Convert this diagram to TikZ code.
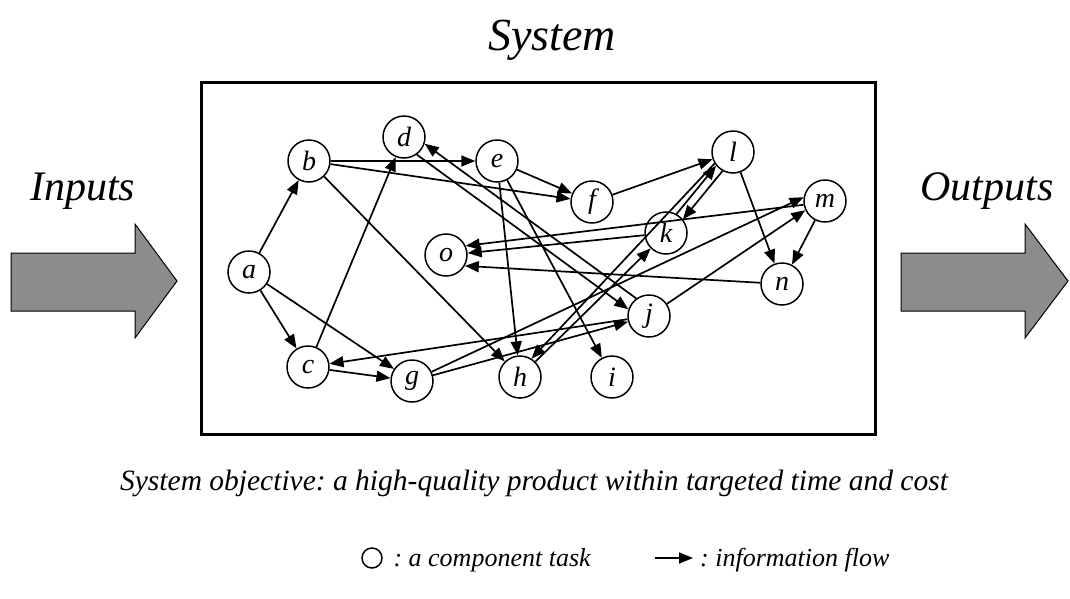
\documentclass[tikz,border=0pt]{standalone}
\usepackage{fontspec}
\setmainfont{Liberation Serif}
\usetikzlibrary{arrows.meta}
\frenchspacing
\begin{document}
\begin{tikzpicture}[x=1pt,y=-1pt,
  task/.style={circle,draw,line width=1.5pt,minimum size=42pt,inner sep=0pt,
    font=\fontsize{28}{28}\selectfont\itshape},
  flow/.style={line width=1.7pt,-{Triangle[length=14pt,width=11pt]}},
  bigarrow/.style={draw=black,line width=1pt,fill=black!45},
  label/.style={inner sep=0pt,font=\itshape}]
\useasboundingbox (0,0) rectangle (1070,598);

% title and the two side labels
\node[label,font=\fontsize{46}{46}\selectfont\itshape,anchor=base] (title) at (552,50) {System};
\node[label,font=\fontsize{42}{42}\selectfont\itshape,anchor=base west] (inp) at (30,200) {Inputs};
\node[label,font=\fontsize{42}{42}\selectfont\itshape,anchor=base] (outp) at (987,200) {Outputs};

% input and output block arrows
\draw[bigarrow] (11,253) -- (135,253) -- (135,224) -- (177,281) -- (135,338) -- (135,311) -- (11,311) -- cycle;
\draw[bigarrow] (901,253) -- (1025,253) -- (1025,224) -- (1068,281) -- (1025,338) -- (1025,311) -- (901,311) -- cycle;

% system boundary
\draw[line width=3pt] (201,82) rectangle (875,434);

% component tasks
\node[task] (a) at (249,272) {a};
\node[task] (b) at (309,161) {b};
\node[task] (c) at (308,367) {c};
\node[task] (d) at (404,137) {d};
\node[task] (e) at (497,161) {e};
\node[task] (f) at (592,202) {f};
\node[task] (g) at (412,381) {g};
\node[task] (h) at (520,377) {h};
\node[task] (i) at (612,377) {i};
\node[task] (j) at (649,316) {j};
\node[task] (k) at (666,233) {k};
\node[task] (l) at (733,152) {l};
\node[task] (m) at (825,201) {m};
\node[task] (n) at (782,284) {n};
\node[task] (o) at (446,255) {o};

% information flows
\draw[flow] (a) -- (b);
\draw[flow] (a) -- (c);
\draw[flow] (a) -- (g);
\draw[flow] (b) -- (e);
\draw[flow] (b) -- (f);
\draw[flow] (b) -- (h);
\draw[flow] (c) -- (d);
\draw[flow] (c) -- (g);
\draw[flow] (d.-54) -- (j.162);
\draw[flow] (j.126) -- (d.-18);
\draw[flow] (e) -- (f);
\draw[flow] (e) -- (h);
\draw[flow] (e) -- (i);
\draw[flow] (f) -- (l);
\draw[flow] (g) -- (j);
\draw[flow] (g) -- (m.170);
\draw[flow] (j) -- (c);
\draw[flow] (j) -- (m.205);
\draw[flow] (h.45) -- (k.225);
\draw[flow] (l.212) -- (h.58);
\draw[flow] (k.61) -- (l.219);
\draw[flow] (l.241) -- (k.39);
\draw[flow] (k) -- (o.5);
\draw[flow] (m.190) -- (o.25);
\draw[flow] (n) -- (o.-30);
\draw[flow] (l) -- (n);
\draw[flow] (m) -- (n);

% objective
\node[label,font=\fontsize{29.5}{29.5}\selectfont\itshape,anchor=base] (obj) at (534,490)
  {System objective: a high-quality product within targeted time and cost};

% legend
\node[circle,draw,line width=1.5pt,minimum size=20pt,inner sep=0pt] (legc) at (372,558) {};
\node[label,font=\fontsize{26}{26}\selectfont\itshape,anchor=base west] (legct) at (389,566) {\,: a component task};
\coordinate (la) at (655,558);
\coordinate (lb) at (693,558);
\draw[flow] (la) -- (lb);
\node[label,font=\fontsize{26}{26}\selectfont\itshape,anchor=base west] (legft) at (700,566) {: information flow};
\end{tikzpicture}
\end{document}
